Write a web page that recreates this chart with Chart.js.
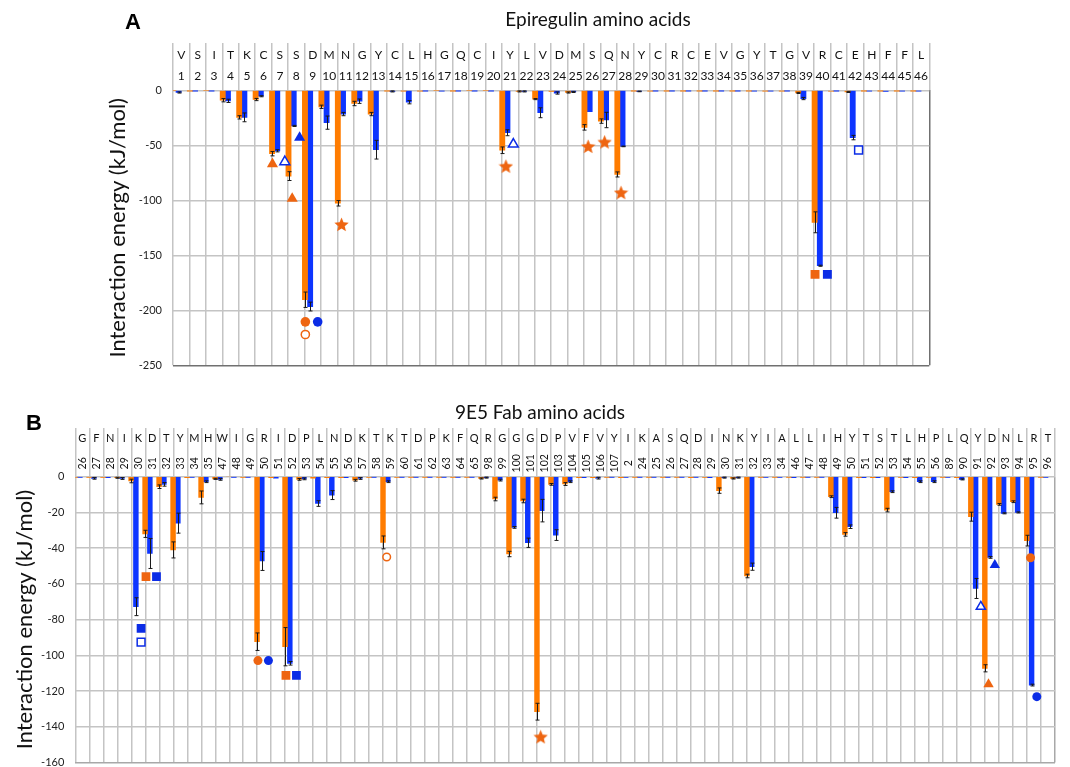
<!DOCTYPE html>
<html>
<head>
<meta charset="utf-8">
<script src="https://cdn.jsdelivr.net/npm/chart.js@4.4.1/dist/chart.umd.min.js"></script>
<style>
  html, body { margin: 0; padding: 0; background: #fff; }
  body { width: 1070px; height: 767px; position: relative; overflow: hidden; font-family: Lato, "Open Sans", sans-serif; }
  canvas { position: absolute; left: 0; }
  #chartA { top: 0; }
  #chartB { top: 390px; }
  .tag { position: absolute; font: bold 22px "Liberation Sans", Arial, sans-serif; color: #000; transform: translate(-50%, -50%); }
  .ttl { position: absolute; font-size: 19px; color: #111; white-space: nowrap; transform: translate(-50%, -50%); }
</style>
</head>
<body>
<canvas id="chartA" width="1070" height="385"></canvas>
<canvas id="chartB" width="1070" height="390"></canvas>
<div class="tag" style="left:133px; top:22px">A</div>
<div class="ttl" style="left:598px; top:18px">Epiregulin amino acids</div>
<div class="tag" style="left:34px; top:423px">B</div>
<div class="ttl" style="left:540px; top:411px">9E5 Fab amino acids</div>
<script>
const ORANGE = "#ff7c00";
const BLUE = "#0d35ff";
const MARK_ORANGE = "#ee6511";
const MARK_BLUE = "#0b2ce6";
const GRID = "#c4c4c4";

// panel A - epiregulin residues
const lettersA = ["V","S","I","T","K","C","S","S","D","M","N","G","Y","C","L","H","G","Q","C","I","Y","L","V","D","M","S","Q","N","Y","C","R","C","E","V","G","Y","T","G","V","R","C","E","H","F","F","L"];
const numbersA = [1,2,3,4,5,6,7,8,9,10,11,12,13,14,15,16,17,18,19,20,21,22,23,24,25,26,27,28,29,30,31,32,33,34,35,36,37,38,39,40,41,42,43,44,45,46];
const orangeA = [0,-0.3,0,-9,-24.6,-8.4,-57.6,-78,-190.4,-15,-102.7,-12,-21.6,-0.3,-0.5,-0.5,0,-0.2,0,0,-54.5,-1,-8,-1,-2,-33.7,-28,-76.5,-0.3,-0.5,-0.2,-0.3,-0.2,-0.2,-0.2,-0.2,-0.5,-0.5,-2.4,-120,-0.8,-1.5,-0.3,-0.2,-0.3,-0.3];
const blueA = [-2,-0.3,-0.2,-9.6,-24.6,-5.4,-55,-32.4,-196.6,-29.4,-21.6,-9.9,-54,-1,-10.8,-0.3,-0.5,-0.2,-0.2,-0.2,-38.6,-1,-20.4,-2.5,-1.5,-19.5,-27,-51,-1,-0.2,-0.2,-0.2,-0.2,-0.3,-0.2,-0.5,-0.5,-0.3,-7.5,-159.5,-0.3,-43,-0.5,-1,-0.5,-0.5];
const errOrangeA = [0,0,0,1.5,1.5,1,2,4,7,1.5,2.5,2,1.5,0,0,0,0,0,0,0,3,0.5,0.5,0,0.5,2.5,2,2.3,0,0,0,0,0,0,0,0,0,0,0.5,9.5,0,0.5,0,0,0,0];
const errBlueA = [0.5,0,0,1.5,4,0.5,1,0.5,4,6,1.5,2,8.5,0.5,1.5,0,0,0,0,0,2.7,0.5,4.5,1,0.5,0,7,0.3,0.3,0,0,0,0,0,0,0,0,0,1,0.5,0,2,0,0,0,0];
// [column index, series (o = orange, b = blue), value, shape, open]
const markersA = [
  [6, "o", -67, "triangle", false],
  [6, "b", -65, "triangle", true],
  [7, "o", -98.5, "triangle", false],
  [7, "b", -43, "triangle", false],
  [8, "o", -210.5, "circle", false],
  [8, "o", -222, "circle", true],
  [8, "b", -210.5, "circle", false],
  [10, "o", -122, "star", false],
  [20, "o", -69, "star", false],
  [20, "b", -49, "triangle", true],
  [25, "o", -51, "star", false],
  [26, "o", -47, "star", false],
  [27, "o", -93, "star", false],
  [39, "o", -167.3, "rect", false],
  [39, "b", -167.3, "rect", false],
  [41, "b", -54.2, "rect", true],
];

// panel B - 9E5 Fab residues (heavy chain then light chain)
const lettersB = ["G","F","N","I","K","D","T","Y","M","H","W","I","G","R","I","D","P","L","N","D","K","T","K","T","D","P","K","F","Q","R","G","G","G","D","P","V","F","V","Y",
  "I","K","A","S","Q","D","I","N","K","Y","I","A","L","L","I","H","Y","T","S","T","L","H","P","L","Q","Y","D","N","L","R","T"];
const numbersB = [26,27,28,29,30,31,32,33,34,35,47,48,49,50,51,52,53,54,55,56,57,58,59,60,61,62,63,64,65,98,99,100,101,102,103,104,105,106,107,
  2,24,25,26,27,28,29,30,31,32,33,34,46,47,48,49,50,51,52,53,54,55,56,89,90,91,92,93,94,95,96];
const orangeB = [-0.3,-0.2,-0.3,-0.6,-2.4,-32,-5.6,-41,-0.6,-11.6,-1.2,0,-0.2,-92.4,-0.5,-95.2,-1.5,-0.8,-0.6,-0.5,-2,-0.4,-36.8,-0.4,-0.1,-0.1,-0.1,-0.1,-0.1,-1,-12.5,-43.3,-13.6,-131.6,-4.3,-4.1,-0.5,-0.5,-0.2,
  -0.5,-0.1,-0.1,-0.1,-0.1,-0.5,-0.3,-7.8,-1,-55.6,-0.1,-0.1,-0.1,-0.1,-0.1,-11.2,-32.3,-0.5,-0.5,-18.7,-0.3,-0.5,-0.3,-0.1,-0.5,-22.4,-107.3,-15.5,-14,-35.8,-0.1];
const blueB = [-0.2,-0.9,-0.5,-1,-72.8,-43,-4.3,-26,-0.2,-2.8,-1.5,-0.1,-0.1,-47.2,-0.8,-104.5,-1.2,-15,-10.3,-0.5,-1,-0.1,-2.8,-0.1,-0.1,-0.1,-0.1,-0.1,-0.1,-0.5,-1.9,-28.4,-37,-19,-32.7,-2.8,-0.5,-0.8,-0.1,
  -0.3,-0.1,-0.1,-0.1,-0.1,-0.1,-0.5,-0.5,-0.5,-50.4,-0.3,-0.3,-0.5,-0.1,-0.1,-20.2,-28,-0.5,-0.5,-8.4,-0.5,-2.8,-2.8,-0.3,-1.5,-62.6,-45.2,-20.5,-20,-116.7,-0.3];
const errOrangeB = [0,0,0,0.3,1,2,1,4.5,0,3.6,0.3,0,0,4.9,0,10.7,0.5,0,0,0,0.5,0,3.6,0,0,0,0,0,0,0.3,1,1.5,1,4.7,0.5,0.8,0,0,0,
  0,0,0,0,0,0,0,1.5,0.3,1,0,0,0,0,0,0.5,1,0,0,1,0,0,0,0,0,2.5,2,0.5,0.5,3,0];
const errBlueB = [0,0.5,0,0.5,5,8.4,1,5.6,0,0.5,0.5,0,0,5.3,0,1,0.5,1.6,2.5,0,0.5,0,0.5,0,0,0,0,0,0,0.3,0.5,0.5,2.6,6.3,3,0.5,0,0.5,0,
  0,0,0,0,0,0,0,0.3,0.3,2,0,0,0,0,0,3,1,0,0,0.5,0,0.5,0.5,0,0.3,5.6,0.5,0.3,0.3,0.5,0];
const markersB = [
  [4, "b", -85, "rect", false],
  [4, "b", -92.6, "rect", true],
  [5, "o", -56, "rect", false],
  [5, "b", -56, "rect", false],
  [13, "o", -103, "circle", false],
  [13, "b", -103, "circle", false],
  [15, "o", -111.3, "rect", false],
  [15, "b", -111.3, "rect", false],
  [22, "o", -45, "circle", true],
  [33, "o", -145.7, "star", false],
  [64, "b", -72.8, "triangle", true],
  [65, "o", -116.3, "triangle", false],
  [65, "b", -49.5, "triangle", false],
  [68, "o", -45.4, "circle", false],
  [68, "b", -123.2, "circle", false],
];

function starImage(color, size) {
  const c = document.createElement("canvas");
  c.width = c.height = size;
  const g = c.getContext("2d");
  const r = size / 2;
  const ri = r * 0.45;
  g.fillStyle = color;
  g.beginPath();
  for (let k = 0; k < 10; k++) {
    const rad = k % 2 ? ri : r;
    const a = -Math.PI / 2 + (k * Math.PI) / 5;
    g.lineTo(r + rad * Math.cos(a), r + 0.6 + rad * Math.sin(a));
  }
  g.closePath();
  g.fill();
  return c;
}

// markers sit under their own bar; when an orange and a blue marker share a
// column at about the same level they are pushed further apart
function markerSets(list, sizes) {
  const paired = new Set();
  list.forEach(([i, s, v]) => {
    if (s !== "o") return;
    if (list.some(([j, t, w]) => j === i && t === "b" && Math.abs(w - v) < 15)) paired.add(i);
  });
  const groups = {};
  list.forEach(([i, s, v, shape, open]) => {
    const key = s + shape + open;
    if (!groups[key]) {
      const color = s === "o" ? MARK_ORANGE : MARK_BLUE;
      groups[key] = {
        type: "scatter",
        xAxisID: "xm",
        data: [],
        pointStyle: shape === "star" ? starImage(color, sizes.star) : shape,
        pointRadius: open ? sizes[shape] - 0.7 : sizes[shape],
        backgroundColor: open ? "#fff" : color,
        borderColor: color,
        borderWidth: open ? 1.5 : 0,
        order: -1,
      };
    }
    const wide = paired.has(i);
    const off = s === "o" ? (wide ? -0.45 : -0.25) : (wide ? 0.3 : 0.2);
    groups[key].data.push({ x: i + off, y: v });
  });
  return Object.values(groups);
}

const headerLabels = {
  id: "headerLabels",
  afterDraw(chart, args, opts) {
    const { ctx, chartArea } = chart;
    const x = chart.scales.x;
    ctx.save();
    ctx.fillStyle = "#111";
    ctx.textAlign = "center";
    ctx.textBaseline = "middle";
    opts.letters.forEach((l, i) => {
      const px = x.getPixelForValue(i);
      ctx.font = opts.letterFont;
      ctx.fillText(l, px, chartArea.top - opts.letterOffset);
      ctx.font = opts.numberFont;
      const ny = chartArea.top - opts.numberOffset;
      if (opts.rotate) {
        ctx.save();
        ctx.translate(px, ny);
        ctx.rotate(-Math.PI / 2);
        ctx.fillText(String(opts.numbers[i]), 0, 0);
        ctx.restore();
      } else {
        ctx.fillText(String(opts.numbers[i]), px, ny);
      }
    });
    ctx.restore();
  },
};

const errorBars = {
  id: "errorBars",
  afterDatasetsDraw(chart) {
    const { ctx } = chart;
    const y = chart.scales.y;
    ctx.save();
    ctx.strokeStyle = "#1a1a1a";
    ctx.lineWidth = 1;
    chart.data.datasets.forEach((ds, di) => {
      if (!ds.errors) return;
      chart.getDatasetMeta(di).data.forEach((bar, i) => {
        const e = ds.errors[i];
        if (!e) return;
        const top = y.getPixelForValue(ds.data[i] + e);
        const bot = y.getPixelForValue(ds.data[i] - e);
        const px = Math.round(bar.x) + 0.5;
        ctx.beginPath();
        ctx.moveTo(px, top);
        ctx.lineTo(px, bot);
        ctx.moveTo(px - 2, top);
        ctx.lineTo(px + 2, top);
        ctx.moveTo(px - 2, bot);
        ctx.lineTo(px + 2, bot);
        ctx.stroke();
      });
    });
    ctx.restore();
  },
};

function buildChart(id, cfg) {
  const n = cfg.numbers.length;
  const barStyle = { borderWidth: 0, barThickness: cfg.barWidth, grouped: true };
  return new Chart(document.getElementById(id), {
    type: "bar",
    data: {
      labels: cfg.numbers.map(String),
      datasets: [
        { data: cfg.orange, errors: cfg.errOrange, backgroundColor: ORANGE, ...barStyle },
        { data: cfg.blue, errors: cfg.errBlue, backgroundColor: BLUE, ...barStyle },
        ...markerSets(cfg.markers, cfg.sizes),
      ],
    },
    options: {
      responsive: false,
      animation: false,
      layout: { padding: cfg.padding },
      plugins: {
        legend: { display: false },
        tooltip: { enabled: false },
        headerLabels: {
          letters: cfg.letters,
          numbers: cfg.numbers,
          rotate: cfg.rotate,
          letterFont: cfg.letterFont,
          numberFont: cfg.numberFont,
          letterOffset: cfg.letterOffset,
          numberOffset: cfg.numberOffset,
        },
      },
      scales: {
        x: {
          type: "category",
          position: "top",
          offset: true,
          ticks: { display: false, autoSkip: false },
          border: { display: false },
          grid: {
            offset: true,
            lineWidth: 1.5,
            color: (c) => (c.type === "scale" ? cfg.edgeColor : GRID),
            tickColor: GRID,
            drawTicks: true,
            tickLength: cfg.header,
          },
        },
        xm: {
          type: "linear",
          display: false,
          bounds: "data",
          offset: false,
          grid: { offset: false },
          min: -0.5,
          max: n - 0.5,
        },
        y: {
          min: cfg.min,
          max: 0,
          ticks: { stepSize: cfg.step, padding: 11, color: "#222", font: { family: "Lato", size: 11 } },
          grid: {
            drawTicks: false,
            lineWidth: 1.5,
            color: (c) => (c.tick && c.tick.value === cfg.min ? cfg.edgeColor : GRID),
          },
          border: { display: false },
          title: {
            display: true,
            text: "Interaction energy (kJ/mol)",
            color: "#111",
            font: { family: "Lato", size: 22 },
            padding: { top: cfg.titlePad, bottom: 0 },
          },
          afterFit: (s) => {
            s.width = cfg.yWidth;
          },
        },
      },
    },
    plugins: [headerLabels, errorBars],
  });
}

buildChart("chartA", {
  letters: lettersA, numbers: numbersA,
  orange: orangeA, blue: blueA, errOrange: errOrangeA, errBlue: errBlueA,
  markers: markersA,
  sizes: { triangle: 6.4, circle: 4.8, rect: 6.3, star: 15 },
  min: -250, step: 50, barWidth: 5.2,
  padding: { left: 100, right: 140.7, top: 43, bottom: 19.7 },
  header: 47.3, yWidth: 73, titlePad: 4.8,
  edgeColor: "#707070",
  rotate: false, letterFont: "12px Lato", numberFont: "12px Lato",
  letterOffset: 35, numberOffset: 14,
});

buildChart("chartB", {
  letters: lettersB, numbers: numbersB,
  orange: orangeB, blue: blueB, errOrange: errOrangeB, errBlue: errBlueB,
  markers: markersB,
  sizes: { triangle: 6, circle: 4.5, rect: 6.2, star: 15 },
  min: -160, step: 20, barWidth: 4.8,
  padding: { left: 8, right: 5.6, top: 38, bottom: 17.3 },
  header: 48.7, yWidth: 67.3, titlePad: 3.4,
  edgeColor: "#a8a8a8",
  rotate: true, letterFont: "11px Lato", numberFont: "10.5px Lato",
  letterOffset: 38.4, numberOffset: 13.4,
});
</script>
</body>
</html>
